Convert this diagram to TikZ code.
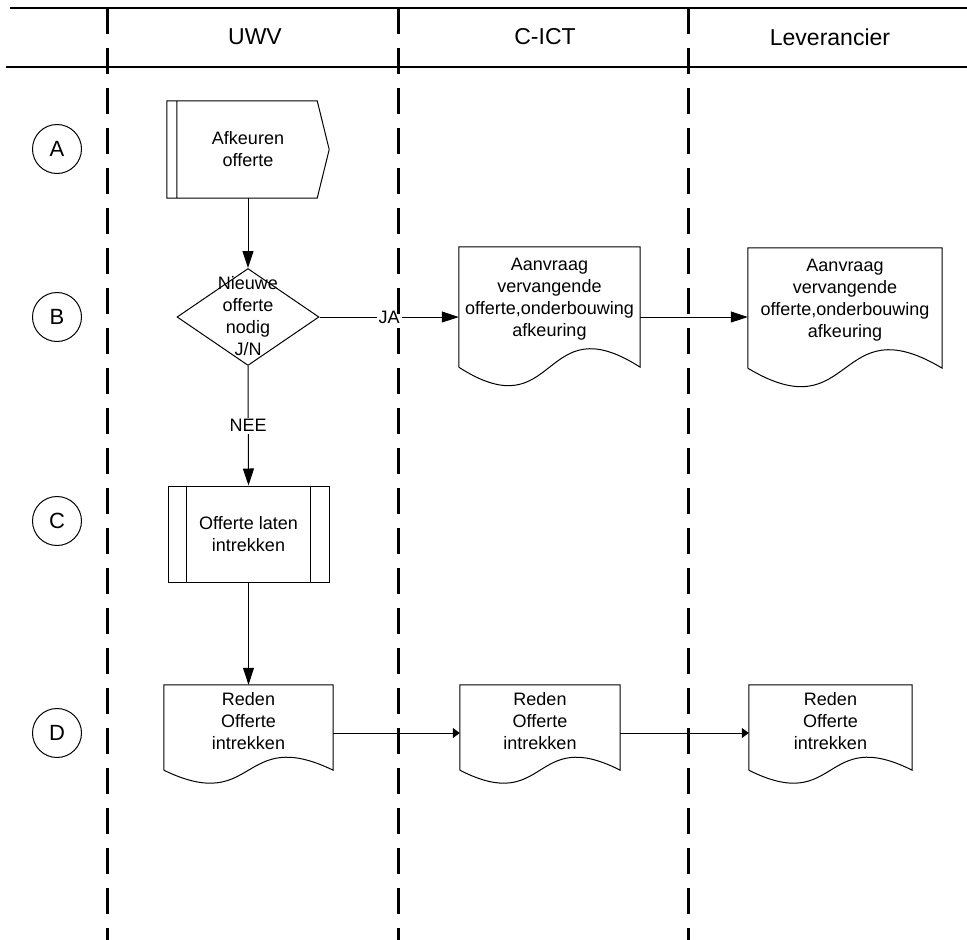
\documentclass[tikz,border=0pt]{standalone}
\usepackage{fontspec}
\setmainfont{Liberation Sans}
\usetikzlibrary{arrows.meta,shapes.geometric,calc}

\tikzset{
  lane/.style={line width=3pt,dash pattern=on 26pt off 14pt},
  rule/.style={line width=2pt},
  thin/.style={line width=1pt},
  txt/.style={align=center,inner sep=0pt,font=\fontsize{18}{22}\selectfont},
  head/.style={font=\fontsize{23}{27}\selectfont},
  stepnr/.style={circle,draw,thin,minimum size=49pt,inner sep=0pt,font=\fontsize{22}{26}\selectfont},
  flow/.style={thin,-{Triangle[length=17pt,width=11pt]}},
  flowsmall/.style={thin,-{Triangle[length=7pt,width=10pt]}},
  answer/.style={txt,fill=white,inner sep=2pt}
}

\begin{document}
\begin{tikzpicture}[x=1pt,y=-1pt]
  \useasboundingbox (0,0) rectangle (967,940);
  \draw[rule] (10,8) -- (967,8);
  \draw[rule] (6,67) -- (967,67);
  \foreach[count=\i] \x/\t in {255/UWV,545/C-ICT,830/Leverancier}
    \node[head] (head\i) at (\x,37) {\t};
  \foreach \y/\l in {149/A,317/B,521/C,733/D}
    \node[stepnr] (row\l) at (57,\y) {\l};

  \node[txt,minimum width=162,minimum height=97] (afk) at (248,149.5) {Afkeuren\\offerte};
  \draw[thin] (afk.north west) -- ($(afk.north east)+(-12,0)$) -- (afk.east) -- ($(afk.south east)+(-12,0)$) -- (afk.south west) -- cycle
    ($(afk.north west)+(10,0)$) -- ($(afk.south west)+(10,0)$);

  \node[diamond,draw,thin,minimum width=142,minimum height=97,inner sep=0pt] (dec) at (248,317) {};
  \node[txt] (dectxt) at (248,316) {Nieuwe\\offerte\\nodig\\J/N};

  \node[txt,draw,thin,minimum width=161,minimum height=96] (intr) at (248.5,534) {Offerte laten\\intrekken};
  \draw[thin] ($(intr.north west)+(19,0)$) -- ($(intr.south west)+(19,0)$)
    ($(intr.north east)+(-19,0)$) -- ($(intr.south east)+(-19,0)$);

  \node[txt,minimum width=181,minimum height=105] (aanvr1) at (549.5,299.5) {Aanvraag\\vervangende\\offerte,onderbouwing\\afkeuring};
  \node[txt,minimum width=194,minimum height=105] (aanvr2) at (845,300.5) {Aanvraag\\vervangende\\offerte,onderbouwing\\afkeuring};
  \node[txt,minimum width=169,minimum height=72] (reden1) at (248.5,721) {Reden\\Offerte\\intrekken};
  \node[txt,minimum width=160,minimum height=72] (reden2) at (540,721) {Reden\\Offerte\\intrekken};
  \node[txt,minimum width=163,minimum height=72] (reden3) at (830.5,721) {Reden\\Offerte\\intrekken};
  \foreach \n/\e/\a in {aanvr1/15/64,aanvr2/15/64,reden1/13/45,reden2/13/45,reden3/13/45}
    \draw[thin] ($(\n.south west)+(0,\e)$) -- (\n.north west) -- (\n.north east) -- ($(\n.south east)+(0,\e)$)
      .. controls ($(\n.south west)!.45!(\n.south east)+(0,\e-\a)$) and ($(\n.south west)!.55!(\n.south east)+(0,\e+\a)$) .. ($(\n.south west)+(0,\e)$);

  \draw[flow] (afk.south) -- (dec.north);
  \draw[flow] (dec.east) -- node[answer] (ja) {JA} (dec.east -| aanvr1.west);
  \draw[flow] (aanvr1.east |- dec.east) -- (aanvr2.west |- dec.east);
  \draw[flow] (dec.south) -- node[answer] (nee) {NEE} (intr.north);
  \draw[flow] (intr.south) -- (reden1.north);
  \draw[flowsmall] (reden1.east |- rowD) -- (reden2.west |- rowD);
  \draw[flowsmall] (reden2.east |- rowD) -- (reden3.west |- rowD);

  \foreach \x in {107,398,688}
    \draw[lane] (\x,8) -- (\x,940);
\end{tikzpicture}
\end{document}
